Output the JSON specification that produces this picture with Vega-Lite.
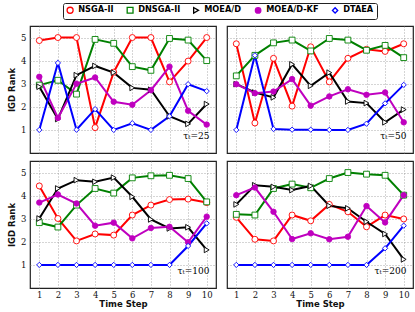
{
  "$schema": "https://vega.github.io/schema/vega-lite/v6.json",
  "padding": {"left": 6, "top": 2, "right": 1, "bottom": 1},
  "background": "white",
  "data": {"values": [
    {"p":25,"alg":"NSGA-II","t":1,"r":4.87},{"p":25,"alg":"NSGA-II","t":2,"r":5},{"p":25,"alg":"NSGA-II","t":3,"r":5},{"p":25,"alg":"NSGA-II","t":4,"r":1.1},{"p":25,"alg":"NSGA-II","t":5,"r":3.5},{"p":25,"alg":"NSGA-II","t":6,"r":5},{"p":25,"alg":"NSGA-II","t":7,"r":5},{"p":25,"alg":"NSGA-II","t":8,"r":3.08},{"p":25,"alg":"NSGA-II","t":9,"r":3.98},{"p":25,"alg":"NSGA-II","t":10,"r":5},
    {"p":25,"alg":"DNSGA-II","t":1,"r":2.94},{"p":25,"alg":"DNSGA-II","t":2,"r":3.15},{"p":25,"alg":"DNSGA-II","t":3,"r":2.55},{"p":25,"alg":"DNSGA-II","t":4,"r":4.92},{"p":25,"alg":"DNSGA-II","t":5,"r":4.75},{"p":25,"alg":"DNSGA-II","t":6,"r":3.74},{"p":25,"alg":"DNSGA-II","t":7,"r":3.58},{"p":25,"alg":"DNSGA-II","t":8,"r":4.96},{"p":25,"alg":"DNSGA-II","t":9,"r":4.89},{"p":25,"alg":"DNSGA-II","t":10,"r":4.0},
    {"p":25,"alg":"MOEA/D","t":1,"r":2.87},{"p":25,"alg":"MOEA/D","t":2,"r":1.47},{"p":25,"alg":"MOEA/D","t":3,"r":3.37},{"p":25,"alg":"MOEA/D","t":4,"r":3.77},{"p":25,"alg":"MOEA/D","t":5,"r":3.48},{"p":25,"alg":"MOEA/D","t":6,"r":2.82},{"p":25,"alg":"MOEA/D","t":7,"r":2.74},{"p":25,"alg":"MOEA/D","t":8,"r":1.59},{"p":25,"alg":"MOEA/D","t":9,"r":1.26},{"p":25,"alg":"MOEA/D","t":10,"r":2.12},
    {"p":25,"alg":"MOEA/D-KF","t":1,"r":3.3},{"p":25,"alg":"MOEA/D-KF","t":2,"r":1.52},{"p":25,"alg":"MOEA/D-KF","t":3,"r":3.0},{"p":25,"alg":"MOEA/D-KF","t":4,"r":3.27},{"p":25,"alg":"MOEA/D-KF","t":5,"r":2.22},{"p":25,"alg":"MOEA/D-KF","t":6,"r":2.09},{"p":25,"alg":"MOEA/D-KF","t":7,"r":2.72},{"p":25,"alg":"MOEA/D-KF","t":8,"r":3.74},{"p":25,"alg":"MOEA/D-KF","t":9,"r":1.83},{"p":25,"alg":"MOEA/D-KF","t":10,"r":1.23},
    {"p":25,"alg":"DTAEA","t":1,"r":1.0},{"p":25,"alg":"DTAEA","t":2,"r":3.9},{"p":25,"alg":"DTAEA","t":3,"r":1.01},{"p":25,"alg":"DTAEA","t":4,"r":1.9},{"p":25,"alg":"DTAEA","t":5,"r":1.0},{"p":25,"alg":"DTAEA","t":6,"r":1.29},{"p":25,"alg":"DTAEA","t":7,"r":1.0},{"p":25,"alg":"DTAEA","t":8,"r":1.59},{"p":25,"alg":"DTAEA","t":9,"r":2.98},{"p":25,"alg":"DTAEA","t":10,"r":2.68},

    {"p":50,"alg":"NSGA-II","t":1,"r":4.73},{"p":50,"alg":"NSGA-II","t":2,"r":1.3},{"p":50,"alg":"NSGA-II","t":3,"r":4.1},{"p":50,"alg":"NSGA-II","t":4,"r":2.03},{"p":50,"alg":"NSGA-II","t":5,"r":4.6},{"p":50,"alg":"NSGA-II","t":6,"r":3.08},{"p":50,"alg":"NSGA-II","t":7,"r":4.1},{"p":50,"alg":"NSGA-II","t":8,"r":4.49},{"p":50,"alg":"NSGA-II","t":9,"r":4.4},{"p":50,"alg":"NSGA-II","t":10,"r":4.73},
    {"p":50,"alg":"DNSGA-II","t":1,"r":3.34},{"p":50,"alg":"DNSGA-II","t":2,"r":4.23},{"p":50,"alg":"DNSGA-II","t":3,"r":4.77},{"p":50,"alg":"DNSGA-II","t":4,"r":4.89},{"p":50,"alg":"DNSGA-II","t":5,"r":4.42},{"p":50,"alg":"DNSGA-II","t":6,"r":4.96},{"p":50,"alg":"DNSGA-II","t":7,"r":4.89},{"p":50,"alg":"DNSGA-II","t":8,"r":4.45},{"p":50,"alg":"DNSGA-II","t":9,"r":4.66},{"p":50,"alg":"DNSGA-II","t":10,"r":4.13},
    {"p":50,"alg":"MOEA/D","t":1,"r":2.98},{"p":50,"alg":"MOEA/D","t":2,"r":2.62},{"p":50,"alg":"MOEA/D","t":3,"r":2.41},{"p":50,"alg":"MOEA/D","t":4,"r":3.84},{"p":50,"alg":"MOEA/D","t":5,"r":2.91},{"p":50,"alg":"MOEA/D","t":6,"r":3.48},{"p":50,"alg":"MOEA/D","t":7,"r":2.23},{"p":50,"alg":"MOEA/D","t":8,"r":2.16},{"p":50,"alg":"MOEA/D","t":9,"r":1.33},{"p":50,"alg":"MOEA/D","t":10,"r":1.88},
    {"p":50,"alg":"MOEA/D-KF","t":1,"r":2.98},{"p":50,"alg":"MOEA/D-KF","t":2,"r":2.59},{"p":50,"alg":"MOEA/D-KF","t":3,"r":2.66},{"p":50,"alg":"MOEA/D-KF","t":4,"r":3.2},{"p":50,"alg":"MOEA/D-KF","t":5,"r":2.05},{"p":50,"alg":"MOEA/D-KF","t":6,"r":2.45},{"p":50,"alg":"MOEA/D-KF","t":7,"r":2.76},{"p":50,"alg":"MOEA/D-KF","t":8,"r":2.52},{"p":50,"alg":"MOEA/D-KF","t":9,"r":2.62},{"p":50,"alg":"MOEA/D-KF","t":10,"r":1.33},
    {"p":50,"alg":"DTAEA","t":1,"r":1.0},{"p":50,"alg":"DTAEA","t":2,"r":4.23},{"p":50,"alg":"DTAEA","t":3,"r":1.04},{"p":50,"alg":"DTAEA","t":4,"r":1.01},{"p":50,"alg":"DTAEA","t":5,"r":1.01},{"p":50,"alg":"DTAEA","t":6,"r":1.0},{"p":50,"alg":"DTAEA","t":7,"r":1.0},{"p":50,"alg":"DTAEA","t":8,"r":1.27},{"p":50,"alg":"DTAEA","t":9,"r":2.15},{"p":50,"alg":"DTAEA","t":10,"r":2.95},

    {"p":100,"alg":"NSGA-II","t":1,"r":4.42},{"p":100,"alg":"NSGA-II","t":2,"r":3.01},{"p":100,"alg":"NSGA-II","t":3,"r":2.04},{"p":100,"alg":"NSGA-II","t":4,"r":2.34},{"p":100,"alg":"NSGA-II","t":5,"r":2.29},{"p":100,"alg":"NSGA-II","t":6,"r":3.16},{"p":100,"alg":"NSGA-II","t":7,"r":3.59},{"p":100,"alg":"NSGA-II","t":8,"r":3.83},{"p":100,"alg":"NSGA-II","t":9,"r":3.85},{"p":100,"alg":"NSGA-II","t":10,"r":3.7},
    {"p":100,"alg":"DNSGA-II","t":1,"r":2.83},{"p":100,"alg":"DNSGA-II","t":2,"r":2.64},{"p":100,"alg":"DNSGA-II","t":3,"r":3.59},{"p":100,"alg":"DNSGA-II","t":4,"r":4.31},{"p":100,"alg":"DNSGA-II","t":5,"r":4.11},{"p":100,"alg":"DNSGA-II","t":6,"r":4.77},{"p":100,"alg":"DNSGA-II","t":7,"r":4.86},{"p":100,"alg":"DNSGA-II","t":8,"r":4.88},{"p":100,"alg":"DNSGA-II","t":9,"r":4.74},{"p":100,"alg":"DNSGA-II","t":10,"r":3.73},
    {"p":100,"alg":"MOEA/D","t":1,"r":3.01},{"p":100,"alg":"MOEA/D","t":2,"r":4.31},{"p":100,"alg":"MOEA/D","t":3,"r":4.67},{"p":100,"alg":"MOEA/D","t":4,"r":4.6},{"p":100,"alg":"MOEA/D","t":5,"r":4.78},{"p":100,"alg":"MOEA/D","t":6,"r":3.95},{"p":100,"alg":"MOEA/D","t":7,"r":2.97},{"p":100,"alg":"MOEA/D","t":8,"r":2.58},{"p":100,"alg":"MOEA/D","t":9,"r":2.63},{"p":100,"alg":"MOEA/D","t":10,"r":1.65},
    {"p":100,"alg":"MOEA/D-KF","t":1,"r":3.7},{"p":100,"alg":"MOEA/D-KF","t":2,"r":4.05},{"p":100,"alg":"MOEA/D-KF","t":3,"r":3.66},{"p":100,"alg":"MOEA/D-KF","t":4,"r":2.7},{"p":100,"alg":"MOEA/D-KF","t":5,"r":2.83},{"p":100,"alg":"MOEA/D-KF","t":6,"r":2.15},{"p":100,"alg":"MOEA/D-KF","t":7,"r":2.6},{"p":100,"alg":"MOEA/D-KF","t":8,"r":2.65},{"p":100,"alg":"MOEA/D-KF","t":9,"r":1.98},{"p":100,"alg":"MOEA/D-KF","t":10,"r":3.09},
    {"p":100,"alg":"DTAEA","t":1,"r":1.0},{"p":100,"alg":"DTAEA","t":2,"r":1.0},{"p":100,"alg":"DTAEA","t":3,"r":1.0},{"p":100,"alg":"DTAEA","t":4,"r":1.0},{"p":100,"alg":"DTAEA","t":5,"r":1.0},{"p":100,"alg":"DTAEA","t":6,"r":1.0},{"p":100,"alg":"DTAEA","t":7,"r":1.0},{"p":100,"alg":"DTAEA","t":8,"r":1.0},{"p":100,"alg":"DTAEA","t":9,"r":1.82},{"p":100,"alg":"DTAEA","t":10,"r":2.8},

    {"p":200,"alg":"NSGA-II","t":1,"r":3.06},{"p":200,"alg":"NSGA-II","t":2,"r":2.11},{"p":200,"alg":"NSGA-II","t":3,"r":2.04},{"p":200,"alg":"NSGA-II","t":4,"r":3.16},{"p":200,"alg":"NSGA-II","t":5,"r":2.91},{"p":200,"alg":"NSGA-II","t":6,"r":3.62},{"p":200,"alg":"NSGA-II","t":7,"r":3.3},{"p":200,"alg":"NSGA-II","t":8,"r":2.65},{"p":200,"alg":"NSGA-II","t":9,"r":3.16},{"p":200,"alg":"NSGA-II","t":10,"r":2.99},
    {"p":200,"alg":"DNSGA-II","t":1,"r":3.19},{"p":200,"alg":"DNSGA-II","t":2,"r":3.16},{"p":200,"alg":"DNSGA-II","t":3,"r":4.31},{"p":200,"alg":"DNSGA-II","t":4,"r":4.5},{"p":200,"alg":"DNSGA-II","t":5,"r":4.34},{"p":200,"alg":"DNSGA-II","t":6,"r":4.74},{"p":200,"alg":"DNSGA-II","t":7,"r":5.0},{"p":200,"alg":"DNSGA-II","t":8,"r":4.93},{"p":200,"alg":"DNSGA-II","t":9,"r":4.88},{"p":200,"alg":"DNSGA-II","t":10,"r":4.02},
    {"p":200,"alg":"MOEA/D","t":1,"r":3.62},{"p":200,"alg":"MOEA/D","t":2,"r":4.45},{"p":200,"alg":"MOEA/D","t":3,"r":4.38},{"p":200,"alg":"MOEA/D","t":4,"r":4.24},{"p":200,"alg":"MOEA/D","t":5,"r":4.42},{"p":200,"alg":"MOEA/D","t":6,"r":3.56},{"p":200,"alg":"MOEA/D","t":7,"r":3.45},{"p":200,"alg":"MOEA/D","t":8,"r":2.87},{"p":200,"alg":"MOEA/D","t":9,"r":2.34},{"p":200,"alg":"MOEA/D","t":10,"r":1.24},
    {"p":200,"alg":"MOEA/D-KF","t":1,"r":4.02},{"p":200,"alg":"MOEA/D-KF","t":2,"r":4.35},{"p":200,"alg":"MOEA/D-KF","t":3,"r":3.3},{"p":200,"alg":"MOEA/D-KF","t":4,"r":2.12},{"p":200,"alg":"MOEA/D-KF","t":5,"r":2.37},{"p":200,"alg":"MOEA/D-KF","t":6,"r":2.11},{"p":200,"alg":"MOEA/D-KF","t":7,"r":2.22},{"p":200,"alg":"MOEA/D-KF","t":8,"r":3.55},{"p":200,"alg":"MOEA/D-KF","t":9,"r":2.84},{"p":200,"alg":"MOEA/D-KF","t":10,"r":4.02},
    {"p":200,"alg":"DTAEA","t":1,"r":1.0},{"p":200,"alg":"DTAEA","t":2,"r":1.0},{"p":200,"alg":"DTAEA","t":3,"r":1.0},{"p":200,"alg":"DTAEA","t":4,"r":1.0},{"p":200,"alg":"DTAEA","t":5,"r":1.0},{"p":200,"alg":"DTAEA","t":6,"r":1.0},{"p":200,"alg":"DTAEA","t":7,"r":1.0},{"p":200,"alg":"DTAEA","t":8,"r":1.0},{"p":200,"alg":"DTAEA","t":9,"r":1.72},{"p":200,"alg":"DTAEA","t":10,"r":2.7},

    {"p":25,"label":"τₜ=25"},{"p":50,"label":"τₜ=50"},{"p":100,"label":"τₜ=100"},{"p":200,"label":"τₜ=200"}
  ]},
  "spacing": 6,
  "vconcat": [
    {
      "spacing": 9,
      "hconcat": [
        {
          "width": 186, "height": 127,
          "transform": [{"filter": "datum.p === 25"}],
          "layer": [
            {
              "transform": [{"filter": "isValid(datum.alg)"}],
              "mark": {"type": "line", "strokeWidth": 2},
              "encoding": {
                "x": {"field": "t", "type": "quantitative", "scale": {"domain": [0.5, 10.5], "nice": false, "zero": false}, "axis": {"title": null, "labels": false, "values": [1,2,3,4,5,6,7,8,9,10], "labelOverlap": false}},
                "y": {"field": "r", "type": "quantitative", "scale": {"domain": [0, 5.5], "nice": false, "zero": false}, "axis": {"title": "IGD Rank", "values": [1,2,3,4,5], "labelOverlap": false}},
                "color": {
                  "field": "alg", "type": "nominal",
                  "scale": {"domain": ["NSGA-II", "DNSGA-II", "MOEA/D", "MOEA/D-KF", "DTAEA"], "range": ["#ff0000", "#008000", "#000000", "#bf00bf", "#0000ff"]},
                  "legend": {
                    "title": null, "orient": "none", "legendX": 33, "legendY": -23, "direction": "horizontal",
                    "strokeColor": "#222", "cornerRadius": 2, "padding": 3, "symbolSize": 400, "symbolStrokeWidth": 1.3,
                    "labelFont": "DejaVu Sans", "labelFontWeight": "bold", "labelFontSize": 8.2, "labelOffset": 4, "columnPadding": 10,
                    "encode": {"symbols": {"update": {
                      "shape": {"signal": "datum.value === 'NSGA-II' ? 'M-1,0L-0.27,0M0.27,0L1,0M0.27,0A0.27,0.27,0,1,1,-0.27,0A0.27,0.27,0,1,1,0.27,0' : datum.value === 'DNSGA-II' ? 'M-1,0L-0.22,0M0.22,0L1,0M-0.22,-0.22L0.22,-0.22L0.22,0.22L-0.22,0.22Z' : datum.value === 'MOEA/D' ? 'M-1,0L-0.2,0M0.27,0L1,0M-0.2,-0.27L0.27,0L-0.2,0.27Z' : datum.value === 'MOEA/D-KF' ? 'M-1,0L1,0M0.15,0A0.15,0.15,0,1,1,-0.15,0A0.15,0.15,0,1,1,0.15,0' : 'M-1,0L-0.27,0M0.27,0L1,0M0,-0.32L0.27,0L0,0.32L-0.27,0Z'"},
                      "fill": {"signal": "datum.value === 'MOEA/D-KF' ? '#bf00bf' : 'white'"},
                      "fillOpacity": {"value": 1}
                    }}}
                  }
                }
              }
            },
            {
              "transform": [{"filter": "isValid(datum.alg)"}],
              "mark": {"type": "point", "filled": true, "strokeWidth": 0.9, "opacity": 1},
              "encoding": {
                "x": {"field": "t", "type": "quantitative", "axis": {"title": null, "labels": false, "values": [1,2,3,4,5,6,7,8,9,10], "labelOverlap": false}},
                "y": {"field": "r", "type": "quantitative", "axis": {"title": "IGD Rank", "values": [1,2,3,4,5], "labelOverlap": false}},
                "stroke": {"field": "alg", "type": "nominal", "legend": null, "scale": {"domain": ["NSGA-II", "DNSGA-II", "MOEA/D", "MOEA/D-KF", "DTAEA"], "range": ["#ff0000", "#008000", "#000000", "#bf00bf", "#0000ff"]}},
                "fill": {"condition": {"test": "datum.alg === 'MOEA/D-KF'", "value": "#bf00bf"}, "value": "white"},
                "shape": {"field": "alg", "type": "nominal", "legend": null, "scale": {"domain": ["NSGA-II", "DNSGA-II", "MOEA/D", "MOEA/D-KF", "DTAEA"], "range": ["circle", "square", "triangle-right", "circle", "diamond"]}},
                "size": {"field": "alg", "type": "nominal", "legend": null, "scale": {"domain": ["NSGA-II", "DNSGA-II", "MOEA/D", "MOEA/D-KF", "DTAEA"], "range": [36, 28, 40, 16, 36]}}
              }
            },
            {
              "transform": [{"filter": "isValid(datum.label)"}],
              "mark": {"type": "text", "align": "right", "baseline": "middle", "font": "DejaVu Serif", "fontSize": 9, "fill": "black"},
              "encoding": {
                "x": {"datum": 10.15, "type": "quantitative", "axis": {"title": null, "labels": false, "values": [1,2,3,4,5,6,7,8,9,10], "labelOverlap": false}},
                "y": {"datum": 0.72, "type": "quantitative", "axis": {"title": "IGD Rank", "values": [1,2,3,4,5], "labelOverlap": false}},
                "text": {"field": "label", "type": "nominal"}
              }
            }
          ]
        },
        {
          "width": 186, "height": 127,
          "transform": [{"filter": "datum.p === 50"}],
          "layer": [
            {
              "transform": [{"filter": "isValid(datum.alg)"}],
              "mark": {"type": "line", "strokeWidth": 2},
              "encoding": {
                "x": {"field": "t", "type": "quantitative", "scale": {"domain": [0.5, 10.5], "nice": false, "zero": false}, "axis": {"title": null, "labels": false, "values": [1,2,3,4,5,6,7,8,9,10], "labelOverlap": false}},
                "y": {"field": "r", "type": "quantitative", "scale": {"domain": [0, 5.5], "nice": false, "zero": false}, "axis": {"title": null, "labels": false, "values": [1,2,3,4,5], "labelOverlap": false}},
                "color": {"field": "alg", "type": "nominal", "scale": {"domain": ["NSGA-II", "DNSGA-II", "MOEA/D", "MOEA/D-KF", "DTAEA"], "range": ["#ff0000", "#008000", "#000000", "#bf00bf", "#0000ff"]}}
              }
            },
            {
              "transform": [{"filter": "isValid(datum.alg)"}],
              "mark": {"type": "point", "filled": true, "strokeWidth": 0.9, "opacity": 1},
              "encoding": {
                "x": {"field": "t", "type": "quantitative", "axis": {"title": null, "labels": false, "values": [1,2,3,4,5,6,7,8,9,10], "labelOverlap": false}},
                "y": {"field": "r", "type": "quantitative", "axis": {"title": null, "labels": false, "values": [1,2,3,4,5], "labelOverlap": false}},
                "stroke": {"field": "alg", "type": "nominal", "legend": null, "scale": {"domain": ["NSGA-II", "DNSGA-II", "MOEA/D", "MOEA/D-KF", "DTAEA"], "range": ["#ff0000", "#008000", "#000000", "#bf00bf", "#0000ff"]}},
                "fill": {"condition": {"test": "datum.alg === 'MOEA/D-KF'", "value": "#bf00bf"}, "value": "white"},
                "shape": {"field": "alg", "type": "nominal", "legend": null, "scale": {"domain": ["NSGA-II", "DNSGA-II", "MOEA/D", "MOEA/D-KF", "DTAEA"], "range": ["circle", "square", "triangle-right", "circle", "diamond"]}},
                "size": {"field": "alg", "type": "nominal", "legend": null, "scale": {"domain": ["NSGA-II", "DNSGA-II", "MOEA/D", "MOEA/D-KF", "DTAEA"], "range": [36, 28, 40, 16, 36]}}
              }
            },
            {
              "transform": [{"filter": "isValid(datum.label)"}],
              "mark": {"type": "text", "align": "right", "baseline": "middle", "font": "DejaVu Serif", "fontSize": 9, "fill": "black"},
              "encoding": {
                "x": {"datum": 10.15, "type": "quantitative", "axis": {"title": null, "labels": false, "values": [1,2,3,4,5,6,7,8,9,10], "labelOverlap": false}},
                "y": {"datum": 0.72, "type": "quantitative", "axis": {"title": null, "labels": false, "values": [1,2,3,4,5], "labelOverlap": false}},
                "text": {"field": "label", "type": "nominal"}
              }
            }
          ]
        }
      ]
    },
    {
      "spacing": 9,
      "hconcat": [
        {
          "width": 186, "height": 127,
          "transform": [{"filter": "datum.p === 100"}],
          "layer": [
            {
              "transform": [{"filter": "isValid(datum.alg)"}],
              "mark": {"type": "line", "strokeWidth": 2},
              "encoding": {
                "x": {"field": "t", "type": "quantitative", "scale": {"domain": [0.5, 10.5], "nice": false, "zero": false}, "axis": {"title": "Time Step", "values": [1,2,3,4,5,6,7,8,9,10], "labelOverlap": false}},
                "y": {"field": "r", "type": "quantitative", "scale": {"domain": [0, 5.5], "nice": false, "zero": false}, "axis": {"title": "IGD Rank", "values": [1,2,3,4,5], "labelOverlap": false}},
                "color": {"field": "alg", "type": "nominal", "scale": {"domain": ["NSGA-II", "DNSGA-II", "MOEA/D", "MOEA/D-KF", "DTAEA"], "range": ["#ff0000", "#008000", "#000000", "#bf00bf", "#0000ff"]}}
              }
            },
            {
              "transform": [{"filter": "isValid(datum.alg)"}],
              "mark": {"type": "point", "filled": true, "strokeWidth": 0.9, "opacity": 1},
              "encoding": {
                "x": {"field": "t", "type": "quantitative", "axis": {"title": "Time Step", "values": [1,2,3,4,5,6,7,8,9,10], "labelOverlap": false}},
                "y": {"field": "r", "type": "quantitative", "axis": {"title": "IGD Rank", "values": [1,2,3,4,5], "labelOverlap": false}},
                "stroke": {"field": "alg", "type": "nominal", "legend": null, "scale": {"domain": ["NSGA-II", "DNSGA-II", "MOEA/D", "MOEA/D-KF", "DTAEA"], "range": ["#ff0000", "#008000", "#000000", "#bf00bf", "#0000ff"]}},
                "fill": {"condition": {"test": "datum.alg === 'MOEA/D-KF'", "value": "#bf00bf"}, "value": "white"},
                "shape": {"field": "alg", "type": "nominal", "legend": null, "scale": {"domain": ["NSGA-II", "DNSGA-II", "MOEA/D", "MOEA/D-KF", "DTAEA"], "range": ["circle", "square", "triangle-right", "circle", "diamond"]}},
                "size": {"field": "alg", "type": "nominal", "legend": null, "scale": {"domain": ["NSGA-II", "DNSGA-II", "MOEA/D", "MOEA/D-KF", "DTAEA"], "range": [36, 28, 40, 16, 36]}}
              }
            },
            {
              "transform": [{"filter": "isValid(datum.label)"}],
              "mark": {"type": "text", "align": "right", "baseline": "middle", "font": "DejaVu Serif", "fontSize": 9, "fill": "black"},
              "encoding": {
                "x": {"datum": 10.15, "type": "quantitative", "axis": {"title": "Time Step", "values": [1,2,3,4,5,6,7,8,9,10], "labelOverlap": false}},
                "y": {"datum": 0.72, "type": "quantitative", "axis": {"title": "IGD Rank", "values": [1,2,3,4,5], "labelOverlap": false}},
                "text": {"field": "label", "type": "nominal"}
              }
            }
          ]
        },
        {
          "width": 186, "height": 127,
          "transform": [{"filter": "datum.p === 200"}],
          "layer": [
            {
              "transform": [{"filter": "isValid(datum.alg)"}],
              "mark": {"type": "line", "strokeWidth": 2},
              "encoding": {
                "x": {"field": "t", "type": "quantitative", "scale": {"domain": [0.5, 10.5], "nice": false, "zero": false}, "axis": {"title": "Time Step", "values": [1,2,3,4,5,6,7,8,9,10], "labelOverlap": false}},
                "y": {"field": "r", "type": "quantitative", "scale": {"domain": [0, 5.5], "nice": false, "zero": false}, "axis": {"title": null, "labels": false, "values": [1,2,3,4,5], "labelOverlap": false}},
                "color": {"field": "alg", "type": "nominal", "scale": {"domain": ["NSGA-II", "DNSGA-II", "MOEA/D", "MOEA/D-KF", "DTAEA"], "range": ["#ff0000", "#008000", "#000000", "#bf00bf", "#0000ff"]}}
              }
            },
            {
              "transform": [{"filter": "isValid(datum.alg)"}],
              "mark": {"type": "point", "filled": true, "strokeWidth": 0.9, "opacity": 1},
              "encoding": {
                "x": {"field": "t", "type": "quantitative", "axis": {"title": "Time Step", "values": [1,2,3,4,5,6,7,8,9,10], "labelOverlap": false}},
                "y": {"field": "r", "type": "quantitative", "axis": {"title": null, "labels": false, "values": [1,2,3,4,5], "labelOverlap": false}},
                "stroke": {"field": "alg", "type": "nominal", "legend": null, "scale": {"domain": ["NSGA-II", "DNSGA-II", "MOEA/D", "MOEA/D-KF", "DTAEA"], "range": ["#ff0000", "#008000", "#000000", "#bf00bf", "#0000ff"]}},
                "fill": {"condition": {"test": "datum.alg === 'MOEA/D-KF'", "value": "#bf00bf"}, "value": "white"},
                "shape": {"field": "alg", "type": "nominal", "legend": null, "scale": {"domain": ["NSGA-II", "DNSGA-II", "MOEA/D", "MOEA/D-KF", "DTAEA"], "range": ["circle", "square", "triangle-right", "circle", "diamond"]}},
                "size": {"field": "alg", "type": "nominal", "legend": null, "scale": {"domain": ["NSGA-II", "DNSGA-II", "MOEA/D", "MOEA/D-KF", "DTAEA"], "range": [36, 28, 40, 16, 36]}}
              }
            },
            {
              "transform": [{"filter": "isValid(datum.label)"}],
              "mark": {"type": "text", "align": "right", "baseline": "middle", "font": "DejaVu Serif", "fontSize": 9, "fill": "black"},
              "encoding": {
                "x": {"datum": 10.15, "type": "quantitative", "axis": {"title": "Time Step", "values": [1,2,3,4,5,6,7,8,9,10], "labelOverlap": false}},
                "y": {"datum": 0.72, "type": "quantitative", "axis": {"title": null, "labels": false, "values": [1,2,3,4,5], "labelOverlap": false}},
                "text": {"field": "label", "type": "nominal"}
              }
            }
          ]
        }
      ]
    }
  ],
  "config": {
    "view": {"stroke": "#222", "strokeWidth": 1.2},
    "axis": {
      "domain": false,
      "ticks": false,
      "grid": true,
      "gridColor": "#888",
      "gridDash": [1, 2],
      "gridWidth": 0.7,
      "labelOverlap": false,
      "labelFont": "DejaVu Serif",
      "labelFontSize": 8.5,
      "labelColor": "#111",
      "labelPadding": 4,
      "titleFont": "DejaVu Sans",
      "titleFontWeight": "bold",
      "titleFontSize": 8.5,
      "titleColor": "#111",
      "titlePadding": 4
    },
    "axisX": {"labelAngle": 0, "labelPadding": 2, "titlePadding": 1}
  }
}
